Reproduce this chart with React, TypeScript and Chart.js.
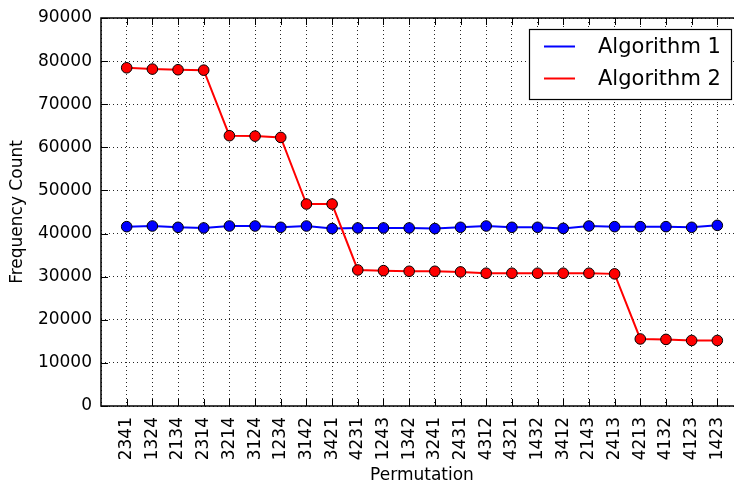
import React, { useEffect, useRef } from "react";
import { Chart, registerables } from "chart.js";

Chart.register(...registerables);

const permutations = [
  "2341", "1324", "2134", "2314", "3214", "3124", "1234", "3142", "3421", "4231", "1243", "1342",
  "3241", "2431", "4312", "4321", "1432", "3412", "2143", "2413", "4213", "4132", "4123", "1423",
];
const algorithm1 = [
  41600, 41750, 41450, 41300, 41750, 41750, 41450, 41750, 41150, 41300, 41300, 41300,
  41150, 41450, 41750, 41450, 41450, 41200, 41750, 41600, 41600, 41600, 41450, 41900,
];
const algorithm2 = [
  78450, 78150, 78000, 77900, 62700, 62600, 62300, 46850, 46850, 31550, 31400, 31250,
  31250, 31100, 30800, 30800, 30800, 30800, 30800, 30650, 15550, 15450, 15200, 15200,
];
const seriesNames = ["Algorithm 1", "Algorithm 2"];
const seriesColors = ["#0000ff", "#ff0000"];
const yTicks = [0, 10000, 20000, 30000, 40000, 50000, 60000, 70000, 80000, 90000];

const FONT = "DejaVu Sans";
const CANVAS_W = 760;
const CANVAS_H = 483;

const framePlugin = {
  id: "frameAndLegend",
  afterDraw(chart: any) {
    const { ctx, chartArea, scales } = chart;
    const { left, right, top, bottom } = chartArea;
    const x = scales.x;
    const y = scales.y;
    ctx.save();
    // inward ticks
    ctx.strokeStyle = "#000";
    ctx.lineWidth = 1;
    ctx.beginPath();
    for (let i = 0; i < permutations.length; i++) {
      const px = Math.round(x.getPixelForValue(i)) + 0.5;
      ctx.moveTo(px, bottom);
      ctx.lineTo(px, bottom - 7);
      ctx.moveTo(px, top);
      ctx.lineTo(px, top + 7);
    }
    for (const v of yTicks) {
      const py = Math.round(y.getPixelForValue(v)) + 0.5;
      ctx.moveTo(left, py);
      ctx.lineTo(left + 7, py);
      ctx.moveTo(right, py);
      ctx.lineTo(right - 7, py);
    }
    ctx.stroke();
    // frame
    ctx.lineWidth = 1.5;
    ctx.strokeRect(left, top, right - left, bottom - top);

    // legend
    const bx = 529.5;
    const by = top + 11.5;
    const bw = 202;
    const bh = 70;
    ctx.fillStyle = "#fff";
    ctx.fillRect(bx, by, bw, bh);
    ctx.lineWidth = 1.2;
    ctx.strokeStyle = "#000";
    ctx.strokeRect(bx, by, bw, bh);
    ctx.font = `21px "${FONT}"`;
    ctx.textBaseline = "middle";
    ctx.textAlign = "left";
    seriesNames.forEach((name, i) => {
      const ly = by + 17 + i * 32;
      ctx.strokeStyle = seriesColors[i];
      ctx.lineWidth = 2;
      ctx.beginPath();
      ctx.moveTo(bx + 14.5, ly);
      ctx.lineTo(bx + 45.5, ly);
      ctx.stroke();
      ctx.fillStyle = "#000";
      ctx.fillText(name, bx + 68.5, ly + 1);
    });
    ctx.restore();
  },
};

export default function App() {
  const canvasRef = useRef<HTMLCanvasElement | null>(null);

  useEffect(() => {
    const canvas = canvasRef.current;
    if (!canvas) return;
    const series = [algorithm1, algorithm2];
    const chart = new Chart(canvas, {
      type: "line",
      data: {
        datasets: series.map((vals, i) => ({
          label: seriesNames[i],
          data: vals.map((v, idx) => ({ x: idx, y: v })),
          borderColor: seriesColors[i],
          backgroundColor: seriesColors[i],
          borderWidth: 2,
          pointRadius: 5.3,
          pointBorderColor: "#000",
          pointBorderWidth: 1,
          pointBackgroundColor: seriesColors[i],
          tension: 0,
          fill: false,
          order: series.length - i,
        })),
      },
      options: {
        responsive: false,
        animation: false,
        devicePixelRatio: 1,
        layout: { padding: { left: 0, top: 18, right: CANVAS_W - 743, bottom: 0 } },
        plugins: {
          legend: { display: false },
          tooltip: { enabled: false },
        },
        scales: {
          x: {
            type: "linear",
            min: -1,
            max: 24,
            afterBuildTicks: (s: any) => {
              const t = [];
              for (let v = -1; v <= 24; v++) t.push({ value: v });
              s.ticks = t;
            },
            afterFit: (s: any) => {
              s.height = CANVAS_H - 406;
              s.paddingLeft = 0;
              s.paddingRight = 0;
            },
            ticks: {
              stepSize: 1,
              autoSkip: false,
              minRotation: 90,
              maxRotation: 90,
              padding: 11,
              color: "#000",
              font: { family: FONT, size: 17 },
              callback: (v: any) => permutations[v] ?? "",
            },
            grid: { color: "rgba(0,0,0,0.85)", lineWidth: 1, drawTicks: false },
            border: { display: false, dash: [1, 3] },
            title: {
              display: true,
              text: "Permutation",
              color: "#000",
              font: { family: FONT, size: 17, lineHeight: 0.9 },
              padding: { top: 0, bottom: 0 },
            },
          },
          y: {
            type: "linear",
            min: 0,
            max: 90000,
            afterBuildTicks: (s: any) => {
              s.ticks = yTicks.map((v) => ({ value: v }));
            },
            afterFit: (s: any) => {
              s.width = 101;
              s.paddingTop = 0;
              s.paddingBottom = 0;
            },
            ticks: {
              stepSize: 10000,
              padding: 9,
              color: "#000",
              font: { family: FONT, size: 17 },
              callback: (v: any) => String(v),
            },
            grid: { color: "rgba(0,0,0,0.85)", lineWidth: 1, drawTicks: false },
            border: { display: false, dash: [1, 3] },
            title: {
              display: true,
              text: "Frequency Count",
              color: "#000",
              font: { family: FONT, size: 17, lineHeight: 0.9 },
              padding: { top: 10, bottom: 0 },
            },
          },
        },
      },
      plugins: [framePlugin],
    });
    return () => chart.destroy();
  }, []);

  return (
    <div
      style={{
        position: "fixed",
        left: 0,
        top: 0,
        width: 734,
        height: 483,
        overflow: "hidden",
        background: "#fff",
      }}
    >
      <canvas
        ref={canvasRef}
        width={CANVAS_W}
        height={CANVAS_H}
        style={{ width: CANVAS_W, height: CANVAS_H, display: "block" }}
      />
    </div>
  );
}
